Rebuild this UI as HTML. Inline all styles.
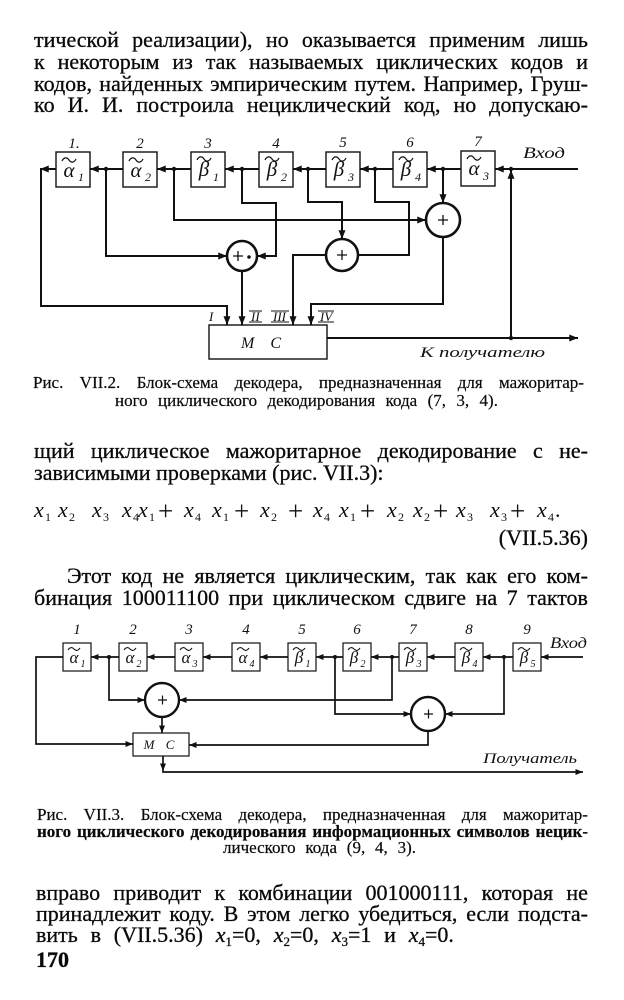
<!DOCTYPE html>
<html><head><meta charset="utf-8"><style>
html,body{margin:0;padding:0;background:#fff}
body{width:624px;height:1000px;position:relative;overflow:hidden;font-family:"Liberation Serif","DejaVu Serif",serif;color:#0a0a0a}
.l{position:absolute;display:flex;justify-content:space-between;white-space:nowrap;font-size:22px;line-height:22px;-webkit-text-stroke:0.3px #0a0a0a}
.c{position:absolute;display:flex;justify-content:space-between;white-space:nowrap;font-size:17px;line-height:17px;-webkit-text-stroke:0.2px #0a0a0a}
.p{position:absolute;white-space:nowrap;font-size:22px;line-height:22px;-webkit-text-stroke:0.3px #0a0a0a}
.s{font-size:13px;position:relative;top:4px}
svg{position:absolute;left:0;top:0}
svg text{font-family:"Liberation Serif","DejaVu Serif",serif;fill:#111}
.it{font-style:italic}
</style></head><body>
<svg width="624" height="1000" viewBox="0 0 624 1000">
<defs>
<marker id="a" viewBox="0 0 10 8" refX="10" refY="4" markerWidth="9" markerHeight="7" markerUnits="userSpaceOnUse" orient="auto"><path d="M0,0L10,4L0,8z" fill="#111"/></marker>
<marker id="b" viewBox="0 0 10 8" refX="10" refY="4" markerWidth="8" markerHeight="6" markerUnits="userSpaceOnUse" orient="auto"><path d="M0,0L10,4L0,8z" fill="#111"/></marker>
</defs>
<!-- ===== FIGURE 1 ===== -->
<g stroke="#111" stroke-width="2" fill="none">
<path d="M578,169L495,169" marker-end="url(#a)"/>
<path d="M461,169L427,169" marker-end="url(#a)"/>
<path d="M393,169L360,169" marker-end="url(#a)"/>
<path d="M326,169L293,169" marker-end="url(#a)"/>
<path d="M259,169L225,169" marker-end="url(#a)"/>
<path d="M191,169L157,169" marker-end="url(#a)"/>
<path d="M123,169L90,169" marker-end="url(#a)"/>
<path d="M56,169L40,169" marker-end="url(#a)"/>
<path d="M41,169L41,306L227,306L227,325" marker-end="url(#a)"/>
<path d="M106,169L106,256L227,256" marker-end="url(#a)"/>
<path d="M174,169L174,220L426,220" marker-end="url(#a)"/>
<path d="M242,169L242,203L276,203L276,256L257,256" marker-end="url(#a)"/>
<path d="M308,169L308,202L342,202L342,239" marker-end="url(#a)"/>
<path d="M375,169L375,202L409,202L409,255L358,255"/>
<path d="M443,169L443,203" marker-end="url(#a)"/>
<path d="M242,271L242,325" marker-end="url(#a)"/>
<path d="M326,255L293,255L293,325" marker-end="url(#a)"/>
<path d="M443,237L443,304L311,304L311,325" marker-end="url(#a)"/>
<path d="M327,338L578,338" marker-end="url(#a)"/>
<path d="M511,338L511,170" marker-end="url(#a)"/>
</g>
<g stroke="#111" stroke-width="1.4" fill="#fff">
<rect x="56" y="152" width="34" height="35"/>
<rect x="123" y="152" width="34" height="35"/>
<rect x="191" y="152" width="34" height="35"/>
<rect x="259" y="152" width="34" height="35"/>
<rect x="326" y="152" width="34" height="35"/>
<rect x="393" y="152" width="34" height="35"/>
<rect x="461" y="151" width="34" height="35"/>
<rect x="209" y="325" width="118" height="34" fill="none"/>
</g>
<g stroke="#111" stroke-width="2.6" fill="#fff">
<circle cx="242" cy="256" r="15"/>
<circle cx="342" cy="255" r="16"/>
<circle cx="443" cy="220" r="17"/>
</g>
<g stroke="#111" stroke-width="1.3">
<path d="M233,256h10M238,251v10"/><path d="M337,255h10M342,250v10"/><path d="M438,220h10M443,215v10"/>
</g>
<g fill="#111">
<circle cx="249" cy="257" r="1.8"/>
<circle cx="106" cy="169" r="2.2"/><circle cx="174" cy="169" r="2.2"/><circle cx="242" cy="169" r="2.2"/>
<circle cx="308" cy="169" r="2.2"/><circle cx="375" cy="169" r="2.2"/><circle cx="443" cy="169" r="2.2"/>
<circle cx="511" cy="169" r="2.2"/><circle cx="511" cy="338" r="2.2"/>
</g>
<!-- box labels fig1 -->
<g class="it" font-size="21" text-anchor="middle">
<text x="69" y="177">α</text><text x="136" y="177">α</text><text x="204" y="176">β</text>
<text x="272" y="176">β</text><text x="339" y="176">β</text><text x="406" y="176">β</text><text x="474" y="175">α</text>
</g>
<g class="it" font-size="12" text-anchor="middle">
<text x="81" y="181">1</text><text x="148" y="181">2</text><text x="216" y="181">1</text>
<text x="284" y="181">2</text><text x="351" y="181">3</text><text x="418" y="181">4</text><text x="486" y="180">3</text>
</g>
<g stroke="#111" stroke-width="1.2" fill="none">
<path d="M62,161c2,-4 5,-4 7,-1s5,3 7,-1"/><path d="M129,161c2,-4 5,-4 7,-1s5,3 7,-1"/>
<path d="M197,160c2,-4 5,-4 7,-1s5,3 7,-1"/><path d="M265,160c2,-4 5,-4 7,-1s5,3 7,-1"/>
<path d="M332,160c2,-4 5,-4 7,-1s5,3 7,-1"/><path d="M399,160c2,-4 5,-4 7,-1s5,3 7,-1"/>
<path d="M467,159c2,-4 5,-4 7,-1s5,3 7,-1"/>
</g>
<g class="it" font-size="15" text-anchor="middle">
<text x="74" y="148">1.</text><text x="140" y="148">2</text><text x="208" y="148">3</text><text x="276" y="148">4</text>
<text x="343" y="147">5</text><text x="410" y="147">6</text><text x="478" y="146">7</text>
</g>
<text class="it" x="523" y="158" font-size="16" textLength="42" lengthAdjust="spacingAndGlyphs">Вход</text>
<text class="it" x="264" y="348" font-size="16" text-anchor="middle" letter-spacing="6">М С</text>
<g class="it" font-size="13">
<text x="209" y="321">I</text><text x="251" y="321">II</text><text x="273" y="321">III</text><text x="320" y="321">IV</text>
</g>
<g stroke="#111" stroke-width="1">
<path d="M249,322h13M271,322h18M318,322h16M249,311h13M271,311h18M318,311h16"/>
</g>
<text class="it" x="420" y="357" font-size="15" textLength="125" lengthAdjust="spacingAndGlyphs">К получателю</text>

<!-- ===== FIGURE 2 ===== -->
<g stroke="#111" stroke-width="1.7" fill="none">
<path d="M583,657L541,657" marker-end="url(#b)"/>
<path d="M513,657L483,657" marker-end="url(#b)"/>
<path d="M455,657L427,657" marker-end="url(#b)"/>
<path d="M399,657L371,657" marker-end="url(#b)"/>
<path d="M343,657L316,657" marker-end="url(#b)"/>
<path d="M288,657L260,657" marker-end="url(#b)"/>
<path d="M232,657L203,657" marker-end="url(#b)"/>
<path d="M175,657L147,657" marker-end="url(#b)"/>
<path d="M119,657L91,657" marker-end="url(#b)"/>
<path d="M63,657L36,657L36,744L133,744" marker-end="url(#b)"/>
<path d="M109,657L109,700L145,700" marker-end="url(#b)"/>
<path d="M392,657L392,700L179,700" marker-end="url(#b)"/>
<path d="M335,657L335,714L411,714" marker-end="url(#b)"/>
<path d="M504,657L504,714L445,714" marker-end="url(#b)"/>
<path d="M428,731L428,745L189,745" marker-end="url(#b)"/>
<path d="M162,717L162,733" marker-end="url(#b)"/>
<path d="M163,756L163,771" marker-end="url(#b)"/>
<path d="M163,771L163,772L583,772" marker-end="url(#b)"/>
</g>
<g stroke="#111" stroke-width="1.2" fill="#fff">
<rect x="63" y="643" width="28" height="28"/><rect x="119" y="643" width="28" height="28"/>
<rect x="175" y="643" width="28" height="28"/><rect x="232" y="643" width="28" height="28"/>
<rect x="288" y="643" width="28" height="28"/><rect x="343" y="643" width="28" height="28"/>
<rect x="399" y="643" width="28" height="28"/><rect x="455" y="643" width="28" height="28"/>
<rect x="513" y="643" width="28" height="28"/>
<rect x="133" y="733" width="56" height="23" fill="none"/>
</g>
<g stroke="#111" stroke-width="2.4" fill="#fff">
<circle cx="162" cy="700" r="17"/><circle cx="428" cy="714" r="17"/>
</g>
<g stroke="#111" stroke-width="1.2">
<path d="M158,700h9M162.5,695.5v9"/><path d="M424,714h9M428.5,709.5v9"/>
</g>
<g fill="#111">
<circle cx="109" cy="657" r="2"/><circle cx="335" cy="657" r="2"/><circle cx="392" cy="657" r="2"/><circle cx="504" cy="657" r="2"/>
</g>
<g class="it" font-size="17" text-anchor="middle">
<text x="74" y="663">α</text><text x="130" y="663">α</text><text x="186" y="663">α</text><text x="243" y="663">α</text>
<text x="299" y="663">β</text><text x="354" y="663">β</text><text x="410" y="663">β</text><text x="466" y="663">β</text><text x="524" y="663">β</text>
</g>
<g class="it" font-size="10" text-anchor="middle">
<text x="83" y="667">1</text><text x="139" y="667">2</text><text x="195" y="667">3</text><text x="252" y="667">4</text>
<text x="308" y="667">1</text><text x="363" y="667">2</text><text x="419" y="667">3</text><text x="475" y="667">4</text><text x="533" y="667">5</text>
</g>
<g stroke="#111" stroke-width="1.1" fill="none">
<path d="M68,650c2,-3 4,-3 6,-1s4,2 6,-1"/><path d="M124,650c2,-3 4,-3 6,-1s4,2 6,-1"/>
<path d="M180,650c2,-3 4,-3 6,-1s4,2 6,-1"/><path d="M237,650c2,-3 4,-3 6,-1s4,2 6,-1"/>
<path d="M293,650c2,-3 4,-3 6,-1s4,2 6,-1"/><path d="M348,650c2,-3 4,-3 6,-1s4,2 6,-1"/>
<path d="M404,650c2,-3 4,-3 6,-1s4,2 6,-1"/><path d="M460,650c2,-3 4,-3 6,-1s4,2 6,-1"/>
<path d="M518,650c2,-3 4,-3 6,-1s4,2 6,-1"/>
</g>
<g class="it" font-size="15" text-anchor="middle">
<text x="77" y="634">1</text><text x="133" y="634">2</text><text x="189" y="634">3</text><text x="246" y="634">4</text>
<text x="302" y="634">5</text><text x="357" y="634">6</text><text x="413" y="634">7</text><text x="469" y="634">8</text><text x="527" y="634">9</text>
</g>
<text class="it" x="550" y="648" font-size="16" textLength="37" lengthAdjust="spacingAndGlyphs">Вход</text>
<text class="it" x="161" y="749" font-size="13" text-anchor="middle" letter-spacing="4">М С</text>
<text class="it" x="483" y="763" font-size="15" textLength="94" lengthAdjust="spacingAndGlyphs">Получатель</text>

<!-- ===== FORMULA ===== -->
<g class="it" font-size="22">
<text x="34" y="517">x</text><text x="58" y="517">x</text><text x="92" y="517">x</text><text x="122" y="517">x</text>
<text x="138" y="517">x</text><text x="184" y="517">x</text><text x="212" y="517">x</text><text x="260" y="517">x</text>
<text x="313" y="517">x</text><text x="339" y="517">x</text><text x="387" y="517">x</text><text x="413" y="517">x</text>
<text x="456" y="517">x</text><text x="490" y="517">x</text><text x="537" y="517">x</text>
</g>
<g font-size="12">
<text x="45" y="521">1</text><text x="69" y="521">2</text><text x="103" y="521">3</text><text x="133" y="521">4</text>
<text x="149" y="521">1</text><text x="195" y="521">4</text><text x="223" y="521">1</text><text x="271" y="521">2</text>
<text x="324" y="521">4</text><text x="350" y="521">1</text><text x="398" y="521">2</text><text x="424" y="521">2</text>
<text x="467" y="521">3</text><text x="501" y="521">3</text><text x="548" y="521">4</text>
</g>
<text x="555" y="517" font-size="22">.</text>
<g font-size="27">
<text x="158" y="520">+</text><text x="234" y="520">+</text><text x="288" y="520">+</text>
<text x="360" y="520">+</text><text x="433" y="520">+</text><text x="510" y="520">+</text>
</g>
</svg>

<!-- top text -->
<div class="l" style="top:28.6px;left:34px;width:554px"><span>тической</span><span>реализации),</span><span>но</span><span>оказывается</span><span>применим</span><span>лишь</span></div>
<div class="l" style="top:50.6px;left:34px;width:554px"><span>к</span><span>некоторым</span><span>из</span><span>так</span><span>называемых</span><span>циклических</span><span>кодов</span><span>и</span></div>
<div class="l" style="top:72.6px;left:34px;width:554px"><span>кодов,</span><span>найденных</span><span>эмпирическим</span><span>путем.</span><span>Например,</span><span>Груш-</span></div>
<div class="l" style="top:93.6px;left:34px;width:554px"><span>ко</span><span>И.</span><span>И.</span><span>построила</span><span>нециклический</span><span>код,</span><span>но</span><span>допускаю-</span></div>

<!-- caption 1 -->
<div class="c" style="top:373.8px;left:33px;width:551px"><span>Рис.</span><span>VII.2.</span><span>Блок-схема</span><span>декодера,</span><span>предназначенная</span><span>для</span><span>мажоритар-</span></div>
<div class="c" style="top:391.8px;left:115px;width:383px"><span>ного</span><span>циклического</span><span>декодирования</span><span>кода</span><span>(7,</span><span>3,</span><span>4).</span></div>

<div class="l" style="top:439.6px;left:34px;width:554px"><span>щий</span><span>циклическое</span><span>мажоритарное</span><span>декодирование</span><span>с</span><span>не-</span></div>
<div class="p" style="top:461.6px;left:34px">зависимыми проверками (рис. VII.3):</div>
<div class="p" style="top:526.6px;right:36px">(VII.5.36)</div>

<div class="l" style="top:564.6px;left:67px;width:521px"><span>Этот</span><span>код</span><span>не</span><span>является</span><span>циклическим,</span><span>так</span><span>как</span><span>его</span><span>ком-</span></div>
<div class="l" style="top:586.6px;left:34px;width:554px"><span>бинация</span><span>100011100</span><span>при</span><span>циклическом</span><span>сдвиге</span><span>на</span><span>7</span><span>тактов</span></div>

<!-- caption 2 -->
<div class="c" style="top:805.8px;left:37px;width:551px"><span>Рис.</span><span>VII.3.</span><span>Блок-схема</span><span>декодера,</span><span>предназначенная</span><span>для</span><span>мажоритар-</span></div>
<div class="c" style="top:822.8px;left:37px;width:551px;font-weight:bold"><span>ного</span><span>циклического</span><span>декодирования</span><span>информационных</span><span>символов</span><span>нецик-</span></div>
<div class="c" style="top:838.8px;left:223px;width:193px"><span>лического</span><span>кода</span><span>(9,</span><span>4,</span><span>3).</span></div>

<div class="l" style="top:881.6px;left:36px;width:552px"><span>вправо</span><span>приводит</span><span>к</span><span>комбинации</span><span>001000111,</span><span>которая</span><span>не</span></div>
<div class="l" style="top:902.6px;left:36px;width:552px"><span>принадлежит</span><span>коду.</span><span>В</span><span>этом</span><span>легко</span><span>убедиться,</span><span>если</span><span>подста-</span></div>
<div class="l" style="top:923.6px;left:36px;width:418px"><span>вить</span><span>в</span><span>(VII.5.36)</span><span><i>x</i><span class="s">1</span>=0,</span><span><i>x</i><span class="s">2</span>=0,</span><span><i>x</i><span class="s">3</span>=1</span><span>и</span><span><i>x</i><span class="s">4</span>=0.</span></div>
<div class="p" style="top:948.6px;left:36px;font-weight:bold">170</div>
</body></html>
